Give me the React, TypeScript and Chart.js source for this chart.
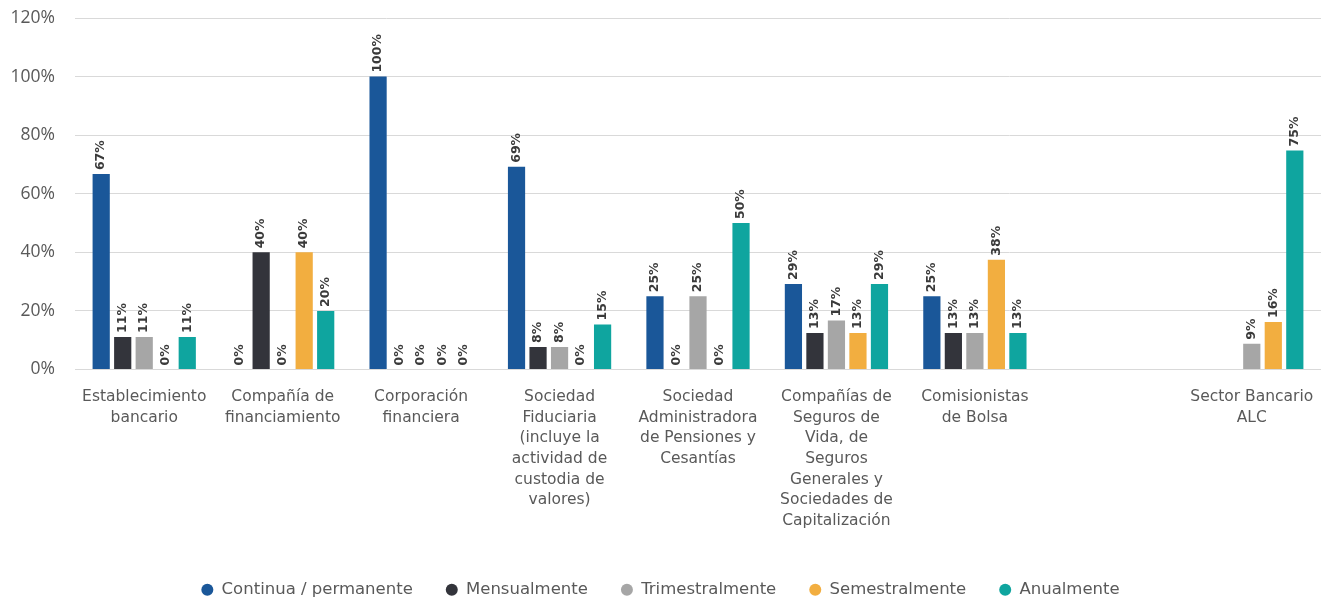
import React, { useEffect, useRef } from "react";
import { Chart, registerables } from "chart.js";

Chart.register(...registerables);

const categories: (string | string[])[] = [
  ["Establecimiento", "bancario"],
  ["Compañía de", "financiamiento"],
  ["Corporación", "financiera"],
  ["Sociedad", "Fiduciaria", "(incluye la", "actividad de", "custodia de", "valores)"],
  ["Sociedad", "Administradora", "de Pensiones y", "Cesantías"],
  ["Compañías de", "Seguros de", "Vida, de", "Seguros", "Generales y", "Sociedades de", "Capitalización"],
  ["Comisionistas", "de Bolsa"],
  "",
  ["Sector Bancario", "ALC"],
];

const seriesNames = ["Continua / permanente", "Mensualmente", "Trimestralmente", "Semestralmente", "Anualmente"];

const continua = [66.7, 0, 100, 69.2, 25, 29.2, 25, null, null];
const mensual = [11.1, 40, 0, 7.7, 0, 12.5, 12.5, null, null];
const trimestral = [11.1, 0, 0, 7.7, 25, 16.7, 12.5, null, 8.8];
const semestral = [0, 40, 0, 0, 0, 12.5, 37.5, null, 16.2];
const anual = [11.1, 20, 0, 15.4, 50, 29.2, 12.5, null, 74.8];

const seriesColors = ["#1a5799", "#33343b", "#a6a6a6", "#f2ae40", "#0fa59f"];

const yMin = 0;
const yMax = 120;
const yStep = 20;

const dataLabelPlugin = {
  id: "barValueLabels",
  afterDatasetsDraw(chart: any) {
    const ctx = chart.ctx;
    ctx.save();
    ctx.font = "bold 12.5px 'DejaVu Sans'";
    ctx.fillStyle = "#3a3a3a";
    ctx.textAlign = "left";
    ctx.textBaseline = "middle";
    chart.data.datasets.forEach((ds: any, i: number) => {
      const meta = chart.getDatasetMeta(i);
      meta.data.forEach((bar: any, j: number) => {
        const v = ds.data[j];
        if (v === null || v === undefined) return;
        ctx.save();
        ctx.translate(bar.x, bar.y - 4);
        ctx.rotate(-Math.PI / 2);
        ctx.fillText(Math.round(v) + "%", 0, 0);
        ctx.restore();
      });
    });
    ctx.restore();
  },
};

export default function App() {
  const canvasRef = useRef<HTMLCanvasElement | null>(null);

  useEffect(() => {
    if (!canvasRef.current) return;
    const allSeries = [continua, mensual, trimestral, semestral, anual];
    const chart = new Chart(canvasRef.current, {
      type: "bar",
      data: {
        labels: categories,
        datasets: allSeries.map((d, i) => ({
          label: seriesNames[i],
          data: d,
          backgroundColor: seriesColors[i],
          borderWidth: 0,
          categoryPercentage: 0.777,
          barPercentage: 0.8,
        })),
      },
      options: {
        responsive: true,
        maintainAspectRatio: false,
        animation: false,
        layout: { padding: { top: 18, bottom: -6, left: 0, right: 2 } },
        plugins: {
          tooltip: { enabled: false },
          legend: {
            position: "bottom",
            labels: {
              usePointStyle: true,
              pointStyle: "circle",
              boxHeight: 8.5,
              pointStyleWidth: 12,
              padding: 33,
              color: "#595959",
              font: { family: "'DejaVu Sans'", size: 16.5 },
            },
          },
        },
        scales: {
          x: {
            grid: { display: false, drawTicks: false },
            border: { display: false },
            ticks: {
              autoSkip: false,
              maxRotation: 0,
              minRotation: 0,
              padding: 17,
              color: "#595959",
              font: { family: "'DejaVu Sans'", size: 15.5, lineHeight: 1.335 },
            },
            afterFit(scale: any) {
              scale.height = 179;
              scale.paddingLeft = 0;
              scale.paddingRight = 0;
            },
          },
          y: {
            min: yMin,
            max: yMax,
            grid: { color: "#d9d9d9", lineWidth: 1, drawTicks: false },
            border: { display: false },
            ticks: {
              stepSize: yStep,
              padding: 20,
              color: "#595959",
              font: { family: "'Open Sans'", size: 17.5 },
              callback: (v: any) => v + "%",
            },
            afterFit(scale: any) {
              scale.width = 75;
              scale.paddingTop = 0;
              scale.paddingBottom = 0;
            },
          },
        },
      },
      plugins: [dataLabelPlugin],
    });
    return () => chart.destroy();
  }, []);

  return (
    <div style={{ position: "fixed", left: 0, top: 0, width: 1323, height: 602, background: "#fff" }}>
      <canvas ref={canvasRef} style={{ display: "block" }} />
    </div>
  );
}
